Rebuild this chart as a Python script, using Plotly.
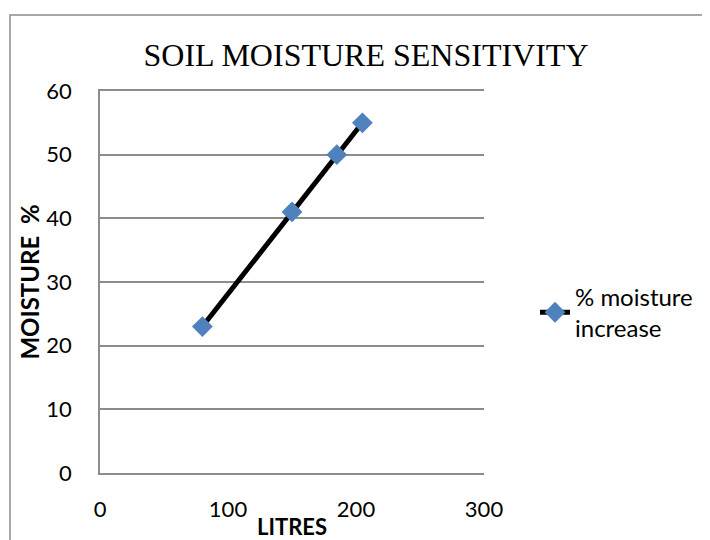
import plotly.graph_objects as go

litres = [80, 150, 185, 205]
moisture = [23, 41, 50, 55]
x_ticks = [0, 100, 200, 300]
y_ticks = [0, 10, 20, 30, 40, 50, 60]
series_name = '% moisture<br>increase'

# page body has an 8px margin, so the figure is offset by 8px
fig_w, fig_h = 702, 532
plot_l, plot_t, plot_w, plot_h = 92, 83, 384, 382

fig = go.Figure()

fig.add_trace(go.Scatter(
    x=litres,
    y=moisture,
    mode='lines+markers',
    name=series_name,
    line=dict(color='black', width=5),
    marker=dict(symbol='diamond', size=16, color='#4F81BD')
))

grid_color = '#8C8C8C'
tick_font = dict(family='Lato', size=22, color='black')

fig.update_layout(
    width=fig_w,
    height=fig_h,
    paper_bgcolor='white',
    plot_bgcolor='white',
    margin=dict(l=plot_l, r=fig_w - plot_l - plot_w, t=plot_t, b=fig_h - plot_t - plot_h),
    title=dict(
        text='SOIL MOISTURE SENSITIVITY',
        x=358 / fig_w,
        xanchor='center',
        y=1 - 47 / fig_h,
        yanchor='middle',
        font=dict(family='Liberation Serif', size=32, color='black')
    ),
    xaxis=dict(
        range=[0, 300],
        tickvals=x_ticks,
        automargin=False,
        showgrid=False,
        zeroline=False,
        showline=True,
        mirror=True,
        linecolor=grid_color,
        linewidth=1.5,
        ticks='',
        tickfont=tick_font,
        ticklabelstandoff=16,
        title=dict(text='<b>LITRES</b>', font=dict(family='Lato', size=22, color='black'), standoff=0)
    ),
    yaxis=dict(
        range=[0, 60],
        tickvals=y_ticks,
        automargin=False,
        showgrid=True,
        gridcolor=grid_color,
        gridwidth=1.5,
        zeroline=False,
        showline=True,
        linecolor=grid_color,
        linewidth=1.5,
        ticks='',
        tickfont=tick_font,
        ticklabelstandoff=22,
        title=dict(text='<b>MOISTURE  %</b>', font=dict(family='Lato', size=24, color='black'), standoff=0)
    ),
    showlegend=True,
    legend=dict(
        x=(527 - plot_l) / plot_w,
        xanchor='left',
        y=0.42,
        yanchor='middle',
        font=dict(family='Lato', size=24, color='black'),
        bgcolor='rgba(0,0,0,0)'
    ),
    shapes=[
        dict(type='rect', xref='paper', yref='paper',
             x0=(2 - plot_l) / plot_w, x1=(900 - plot_l) / plot_w,
             y0=-0.3, y1=(plot_t + plot_h - 7) / plot_h,
             line=dict(color='#8C8C8C', width=1.5), layer='below')
    ]
)

fig.write_html('out.html')
